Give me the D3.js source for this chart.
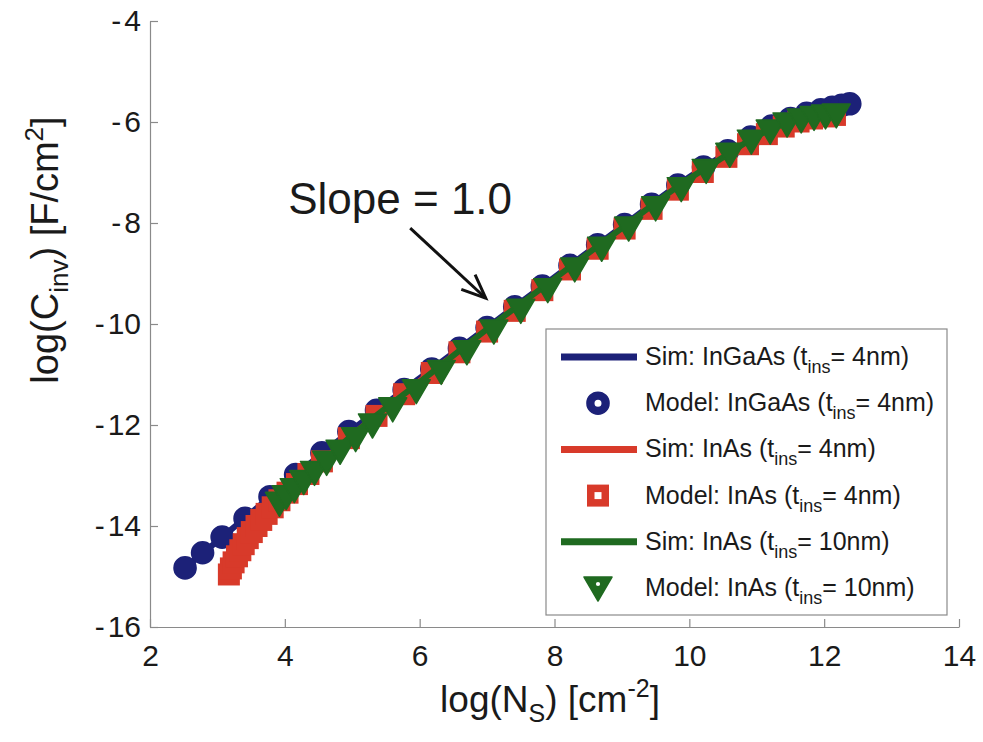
<!DOCTYPE html>
<html>
<head>
<meta charset="utf-8">
<script src="https://cdn.jsdelivr.net/npm/d3@7"></script>
<style>
  body { margin: 0; background: #fff; }
  text { font-family: "Liberation Sans", Arial, sans-serif; fill: #1a1a1a; }
</style>
</head>
<body>
<svg id="chart" width="983" height="742"></svg>
<script>
// axis ticks
const xTicks = [2, 4, 6, 8, 10, 12, 14];
const yTicks = [-16, -14, -12, -10, -8, -6, -4];

// Sim: InGaAs (tins = 4nm) -- [log Ns, log Cinv]
const simInGaAs = [[2.5,-14.85],[3,-14.3],[3.5,-13.74],[4,-13.17],[5,-12.09],[6,-11.07],[7,-10.07],[8,-9.07],[9,-8.07],[10,-7.09],[10.5,-6.66],[11,-6.25],[11.5,-5.93],[12,-5.75],[12.4,-5.64]];
// Model: InGaAs (tins = 4nm)
const modelInGaAs = [[2.52,-14.83],[2.78,-14.53],[3.07,-14.22],[3.41,-13.85],[3.78,-13.42],[4.16,-12.98],[4.55,-12.55],[4.95,-12.13],[5.36,-11.71],[5.77,-11.3],[6.18,-10.89],[6.59,-10.48],[7.0,-10.07],[7.41,-9.66],[7.82,-9.25],[8.23,-8.84],[8.64,-8.43],[9.04,-8.03],[9.44,-7.63],[9.83,-7.25],[10.21,-6.89],[10.57,-6.57],[10.91,-6.3],[11.22,-6.08],[11.5,-5.93],[11.74,-5.83],[11.95,-5.76],[12.12,-5.71],[12.26,-5.67],[12.38,-5.64]];
// Sim: InAs (tins = 4nm)
const simInAs4 = [[3.17,-14.95],[3.3,-14.7],[3.5,-14.32],[3.8,-13.8],[4.2,-13.18],[5,-12.2],[6,-11.13],[7,-10.13],[8,-9.13],[9,-8.13],[10,-7.16],[10.5,-6.72],[11,-6.32],[11.5,-6.03],[12,-5.88],[12.2,-5.85]];
// Model: InAs (tins = 4nm)
const modelInAs4 = [[3.17,-14.96],[3.2,-14.84],[3.24,-14.72],[3.29,-14.6],[3.34,-14.48],[3.39,-14.36],[3.45,-14.24],[3.51,-14.12],[3.58,-14.0],[3.65,-13.88],[3.73,-13.76],[3.82,-13.63],[3.92,-13.49],[4.04,-13.34],[4.18,-13.17],[4.35,-12.97],[4.55,-12.72],[4.95,-12.26],[5.36,-11.82],[5.77,-11.39],[6.18,-10.97],[6.59,-10.56],[7.0,-10.15],[7.41,-9.74],[7.82,-9.33],[8.23,-8.92],[8.64,-8.51],[9.04,-8.11],[9.44,-7.72],[9.83,-7.34],[10.2,-6.99],[10.55,-6.69],[10.87,-6.44],[11.15,-6.24],[11.4,-6.09],[11.62,-5.99],[11.82,-5.93],[12.0,-5.89],[12.16,-5.86]];
// Sim: InAs (tins = 10nm)
const simInAs10 = [[3.92,-13.55],[4.3,-13.07],[5,-12.2],[6,-11.15],[7,-10.1],[8,-9.1],[9,-8.1],[10,-7.12],[10.5,-6.7],[11,-6.28],[11.5,-6.0],[12,-5.87],[12.2,-5.86]];
// Model: InAs (tins = 10nm)
const modelInAs10 = [[3.92,-13.55],[4.02,-13.42],[4.14,-13.28],[4.28,-13.12],[4.44,-12.94],[4.62,-12.74],[4.82,-12.52],[5.05,-12.27],[5.3,-12.0],[5.6,-11.68],[5.95,-11.32],[6.32,-10.94],[6.7,-10.55],[7.1,-10.14],[7.5,-9.73],[7.9,-9.32],[8.3,-8.91],[8.7,-8.5],[9.1,-8.1],[9.5,-7.7],[9.88,-7.32],[10.25,-6.96],[10.6,-6.64],[10.92,-6.38],[11.2,-6.18],[11.45,-6.04],[11.66,-5.96],[11.85,-5.91],[12.02,-5.88],[12.18,-5.86]];

// annotation (data units)
const slopeLabel = { x: 4.05, y: -7.82, text: "Slope = 1.0" };
const slopeArrow = { x1: 5.86, y1: -8.1, x2: 6.98, y2: -9.49 };

const blue = "#1c2178", red = "#d83a2a", green = "#1f6a20";

const svg = d3.select("#chart");
const x = d3.scaleLinear().domain([2, 14]).range([150, 959]);
const y = d3.scaleLinear().domain([-16, -4]).range([627, 21]);

// axes
const gx = svg.append("g").attr("transform", "translate(0,627)")
  .call(d3.axisBottom(x).tickValues(xTicks).tickSizeInner(-8).tickSizeOuter(0).tickPadding(18));
const gy = svg.append("g").attr("transform", "translate(150,0)")
  .call(d3.axisLeft(y).tickValues(yTicks).tickSizeInner(-8).tickSizeOuter(0).tickPadding(9));
[gx, gy].forEach(g => {
  g.select(".domain").attr("stroke", "#8a8a8a").attr("stroke-width", 1.2);
  g.selectAll(".tick line").attr("stroke", "#8a8a8a").attr("stroke-width", 1.2);
  g.selectAll(".tick text").attr("font-size", 30).attr("fill", "#1a1a1a")
    .attr("font-family", "Liberation Sans, Arial, sans-serif");
});
gy.selectAll(".tick text").each(function(d) {
  const t = d3.select(this);
  t.text(null);
  t.append("tspan").text("-");
  t.append("tspan").attr("dx", 3).text(Math.abs(d));
});

// series lines
const line = d3.line().x(d => x(d[0])).y(d => y(d[1])).curve(d3.curveMonotoneX);
function drawLine(data, color) {
  svg.append("path").datum(data).attr("d", line)
    .attr("fill", "none").attr("stroke", color).attr("stroke-width", 6);
}
// markers
function circleMark(g, cx, cy, color, hole) {
  const outer = 11.8;
  g.append("circle").attr("cx", cx).attr("cy", cy).attr("r", (outer + hole) / 2)
    .attr("fill", "none").attr("stroke", color).attr("stroke-width", outer - hole);
}
function squareMark(g, cx, cy, color, hole) {
  const outer = 11;
  const h = (outer + hole) / 2;
  g.append("rect").attr("x", cx - h).attr("y", cy - h).attr("width", 2 * h).attr("height", 2 * h)
    .attr("fill", "none").attr("stroke", color).attr("stroke-width", outer - hole);
}
function triMark(g, cx, cy, color, hole) {
  g.append("path").attr("d", `M${cx - 14},${cy - 11}L${cx + 14},${cy - 11}L${cx},${cy + 13}Z`)
    .attr("fill", color).attr("stroke", color).attr("stroke-width", 1.5).attr("stroke-linejoin", "round");
  if (hole > 0) g.append("circle").attr("cx", cx).attr("cy", cy - 4).attr("r", hole * 0.6).attr("fill", "#fff");
}
function drawMarks(data, fn, color) {
  const g = svg.append("g");
  data.forEach(d => fn(g, x(d[0]), y(d[1]), color, 0));
}

drawLine(simInGaAs, blue);
drawMarks(modelInGaAs, circleMark, blue);
drawLine(simInAs4, red);
drawMarks(modelInAs4, squareMark, red);
drawLine(simInAs10, green);
drawMarks(modelInAs10, triMark, green);

// annotation
svg.append("text").attr("x", x(slopeLabel.x)).attr("y", y(slopeLabel.y))
  .attr("font-size", 44).text(slopeLabel.text);
const ax1 = x(slopeArrow.x1), ay1 = y(slopeArrow.y1), ax2 = x(slopeArrow.x2), ay2 = y(slopeArrow.y2);
svg.append("line").attr("x1", ax1).attr("y1", ay1).attr("x2", ax2).attr("y2", ay2)
  .attr("stroke", "#111").attr("stroke-width", 3);
const ang = Math.atan2(ay2 - ay1, ax2 - ax1);
const headLen = 26, spread = 0.4;
svg.append("path")
  .attr("d", `M${ax2 - headLen * Math.cos(ang - spread)},${ay2 - headLen * Math.sin(ang - spread)}L${ax2},${ay2}L${ax2 - headLen * Math.cos(ang + spread)},${ay2 - headLen * Math.sin(ang + spread)}`)
  .attr("fill", "none").attr("stroke", "#111").attr("stroke-width", 3);

// axis titles
const xt = svg.append("text").attr("x", 550).attr("y", 712).attr("text-anchor", "middle").attr("font-size", 37);
xt.append("tspan").text("log(N");
xt.append("tspan").attr("font-size", 25).attr("dy", 10).text("S");
xt.append("tspan").attr("dy", -10).text(")  [cm");
xt.append("tspan").attr("font-size", 25).attr("dy", -15).text("-2");
xt.append("tspan").attr("dy", 15).text("]");

const yt = svg.append("text").attr("transform", "translate(58,250) rotate(-90)")
  .attr("text-anchor", "middle").attr("font-size", 38);
yt.append("tspan").text("log(C");
yt.append("tspan").attr("font-size", 26).attr("dy", 10).text("inv");
yt.append("tspan").attr("dy", -10).text(")  [F/cm");
yt.append("tspan").attr("font-size", 26).attr("dy", -15).text("2");
yt.append("tspan").attr("dy", 15).text("]");

// legend
const legendItems = [
  { kind: "line", color: blue, label: "Sim: InGaAs (t", tail: "= 4nm)" },
  { kind: circleMark, color: blue, label: "Model: InGaAs (t", tail: "= 4nm)" },
  { kind: "line", color: red, label: "Sim: InAs (t", tail: "= 4nm)" },
  { kind: squareMark, color: red, label: "Model: InAs (t", tail: "= 4nm)" },
  { kind: "line", color: green, label: "Sim: InAs (t", tail: "= 10nm)" },
  { kind: triMark, color: green, label: "Model: InAs (t", tail: "= 10nm)" }
];
const lg = svg.append("g");
lg.append("rect").attr("x", 546).attr("y", 329).attr("width", 401).attr("height", 286)
  .attr("fill", "#fff").attr("stroke", "#8a8a8a").attr("stroke-width", 1.2);
legendItems.forEach((it, i) => {
  const cy = 357 + i * 46.2;
  if (it.kind === "line") {
    lg.append("line").attr("x1", 561).attr("x2", 637).attr("y1", cy).attr("y2", cy)
      .attr("stroke", it.color).attr("stroke-width", 7);
  } else {
    it.kind(lg, 598, cy, it.color, 3.5);
  }
  const t = lg.append("text").attr("x", 645).attr("y", cy + 8).attr("font-size", 25);
  t.append("tspan").text(it.label);
  t.append("tspan").attr("font-size", 18).attr("dy", 8).text("ins");
  t.append("tspan").attr("dy", -8).text(it.tail);
});
</script>
</body>
</html>
